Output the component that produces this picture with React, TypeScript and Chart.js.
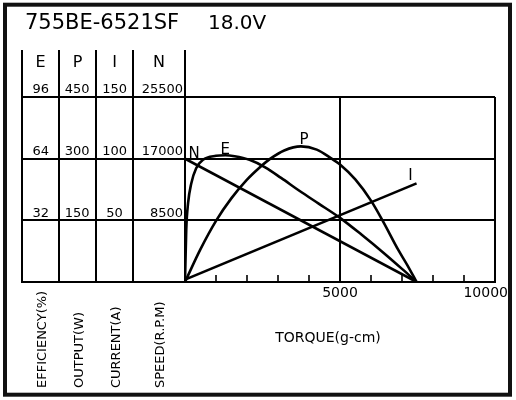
import React, { useEffect, useRef } from 'react';
import { Chart, registerables } from 'chart.js';

Chart.register(...registerables);

const FONT = '"DejaVu Sans", sans-serif';

// readings, torque in g-cm
const effTorque = [0, 40, 100, 200, 360, 580, 1000, 1300, 1600, 2080, 2600, 3100, 3700, 4300, 5000, 5700, 6400, 7000, 7470];
const effValues = [0, 27, 41, 51, 59, 63.4, 65.5, 65.8, 65.3, 63.4, 59.4, 54, 47.2, 40.8, 33.3, 24.5, 15.2, 6.8, 0];

const outTorque = [0, 500, 1010, 1500, 2000, 2400, 2755, 3200, 3740, 4250, 4730, 5000, 5500, 6000, 6370, 6880, 7180, 7470];
const outValues = [0, 80, 150, 204, 249, 278, 300, 320, 330, 322, 300, 286, 249, 198, 150, 78, 40, 0];

const currentTorque = [0, 7470];
const currentValues = [2, 80];

const speedTorque = [0, 7470];
const speedValues = [17000, 0];

// tick labels
const effTicks = [32, 64, 96];
const outTicks = [150, 300, 450];
const currentTicks = [50, 100, 150];
const speedTicks = [8500, 17000, 25500];
const torqueTicks = [5000, 10000];
const TORQUE_MAX = 10000;
const TORQUE_STEP = 1000;

const headers = ['E', 'P', 'I', 'N'];
const axisNames = ['EFFICIENCY(%)', 'OUTPUT(W)', 'CURRENT(A)', 'SPEED(R.P.M)'];
const modelName = '755BE-6521SF';
const voltage = '18.0V';
const torqueTitle = 'TORQUE(g-cm)';

const HEADER_TOP = 50;

const toPoints = (xs: number[], ys: number[]) => xs.map((x, i) => ({ x, y: ys[i] }));

const sideAxis = (
  ticks: number[],
  weight: number,
  width: number,
  padding: number,
  crossAlign: 'near' | 'center'
) => ({
  type: 'linear' as const,
  position: 'left' as const,
  min: 0,
  max: ticks[ticks.length - 1],
  weight,
  afterBuildTicks: (s: any) => {
    s.ticks = [0, ...ticks].map((value) => ({ value }));
  },
  afterFit: (s: any) => {
    s.width = width;
  },
  ticks: {
    padding,
    crossAlign,
    labelOffset: -7,
    color: '#000',
    font: { family: FONT, size: 13 },
    callback: (v: any) => (v === 0 ? '' : String(v)),
  },
  grid: { display: false, drawTicks: false },
  border: { display: false },
});

const framePlugin = {
  id: 'motorFrame',
  beforeDatasetsDraw(chart: any) {
    const { ctx, chartArea, scales } = chart;
    const { left, right, top, bottom } = chartArea;
    const cols = [scales.yE, scales.yP, scales.yI, scales.yN];
    const tableLeft = scales.yE.left;

    ctx.save();
    ctx.strokeStyle = '#000';
    ctx.lineWidth = 2;
    ctx.beginPath();
    [...cols.map((s: any) => s.left), left].forEach((x: number) => {
      const px = Math.round(x);
      ctx.moveTo(px, HEADER_TOP);
      ctx.lineTo(px, bottom + 1);
    });
    ctx.moveTo(Math.round(right), top);
    ctx.lineTo(Math.round(right), bottom + 1);
    scales.yN.ticks.forEach((t: any) => {
      const y = Math.round(scales.yN.getPixelForValue(t.value));
      ctx.moveTo(tableLeft, y);
      ctx.lineTo(right, y);
    });
    ctx.stroke();

    // short torque ticks pointing into the plot
    ctx.beginPath();
    ctx.lineWidth = 1.6;
    scales.x.ticks.forEach((t: any) => {
      if (t.value <= 0 || t.value >= TORQUE_MAX) return;
      const x = Math.round(scales.x.getPixelForValue(t.value));
      ctx.moveTo(x, bottom);
      ctx.lineTo(x, bottom - 7);
    });
    ctx.stroke();

    ctx.fillStyle = '#000';
    ctx.textAlign = 'center';
    ctx.font = `16px ${FONT}`;
    cols.forEach((s: any, i: number) => {
      ctx.fillText(headers[i], (s.left + s.right) / 2, 67);
    });
    ctx.restore();
  },
  afterDraw(chart: any) {
    const { ctx, chartArea, scales } = chart;
    const cols = [scales.yE, scales.yP, scales.yI, scales.yN];
    ctx.save();
    ctx.fillStyle = '#000';

    ctx.strokeStyle = '#111';
    ctx.lineWidth = 4;
    ctx.strokeRect(5, 4.7, 505, 390);

    ctx.font = `21px ${FONT}`;
    ctx.textAlign = 'left';
    ctx.fillText(modelName, 25, 28.5);
    ctx.font = `20px ${FONT}`;
    ctx.fillText(voltage, 208, 28.5);

    // torque tick labels, the last one kept inside the frame
    ctx.font = `14px ${FONT}`;
    ctx.textAlign = 'center';
    torqueTicks.forEach((v) => {
      const w = ctx.measureText(String(v)).width;
      const x = Math.min(scales.x.getPixelForValue(v), 508 - w / 2);
      ctx.fillText(String(v), x, 297);
    });
    ctx.fillText(torqueTitle, chartArea.left + 143, 342);

    // rotated axis names under each column
    ctx.font = `13px ${FONT}`;
    ctx.textAlign = 'left';
    cols.forEach((s: any, i: number) => {
      ctx.save();
      ctx.translate((s.left + s.right) / 2 + 5, 388);
      ctx.rotate(-Math.PI / 2);
      ctx.fillText(axisNames[i], 0, 0);
      ctx.restore();
    });

    // curve letters
    ctx.font = `15px ${FONT}`;
    ctx.textAlign = 'center';
    chart.data.datasets.forEach((ds: any, i: number) => {
      const meta = chart.getDatasetMeta(i);
      const ys = ds.data.map((p: any) => p.y);
      const idx = ds.tag === 'peak' ? ys.indexOf(Math.max(...ys)) : ds.tag === 'start' ? 0 : ys.length - 1;
      const pt = meta.data[idx];
      ctx.fillText(ds.label, pt.x + ds.tagDx, pt.y + ds.tagDy);
    });
    ctx.restore();
  },
};

const curve = (label: string, data: { x: number; y: number }[], yAxisID: string, tag: string, tagDx: number, tagDy: number) => ({
  label,
  data,
  yAxisID,
  tag,
  tagDx,
  tagDy,
  borderColor: '#000',
  borderWidth: 2.6,
  pointRadius: 0,
  fill: false,
  cubicInterpolationMode: 'monotone' as const,
});

export default function App() {
  const canvasRef = useRef<HTMLCanvasElement>(null);

  useEffect(() => {
    if (!canvasRef.current) return;
    const chart = new Chart(canvasRef.current, {
      type: 'line',
      data: {
        datasets: [
          curve('N', toPoints(speedTorque, speedValues), 'yN', 'start', 9, -1),
          curve('E', toPoints(effTorque, effValues), 'yE', 'peak', 0, -1),
          curve('P', toPoints(outTorque, outValues), 'yP', 'peak', 3, -2),
          curve('I', toPoints(currentTorque, currentValues), 'yI', 'end', -6, -3),
        ] as any,
      },
      options: {
        responsive: false,
        animation: false,
        events: [],
        layout: { padding: { left: 22, right: 21, top: 97, bottom: 118 } },
        plugins: { legend: { display: false }, tooltip: { enabled: false } },
        scales: {
          x: {
            type: 'linear',
            min: 0,
            max: TORQUE_MAX,
            ticks: { display: false, stepSize: TORQUE_STEP },
            grid: {
              drawTicks: false,
              lineWidth: 2,
              color: (c: any) => (c.tick && c.tick.value === torqueTicks[0] ? '#000' : 'rgba(0,0,0,0)'),
            },
            border: { display: false },
          },
          yE: sideAxis(effTicks, 3, 37, 10, 'center'),
          yP: sideAxis(outTicks, 2, 37, 6.5, 'center'),
          yI: sideAxis(currentTicks, 1, 37, 6, 'center'),
          yN: {
            ...sideAxis(speedTicks, 0, 52, 2, 'near'),
            grid: { display: true, drawTicks: false, color: '#000', lineWidth: 2 },
          },
        } as any,
      },
      plugins: [framePlugin],
    });
    return () => chart.destroy();
  }, []);

  return (
    <div style={{ position: 'fixed', left: 0, top: 0, width: 516, height: 400, background: '#fff' }}>
      <canvas ref={canvasRef} width={516} height={400} style={{ display: 'block' }} />
    </div>
  );
}
